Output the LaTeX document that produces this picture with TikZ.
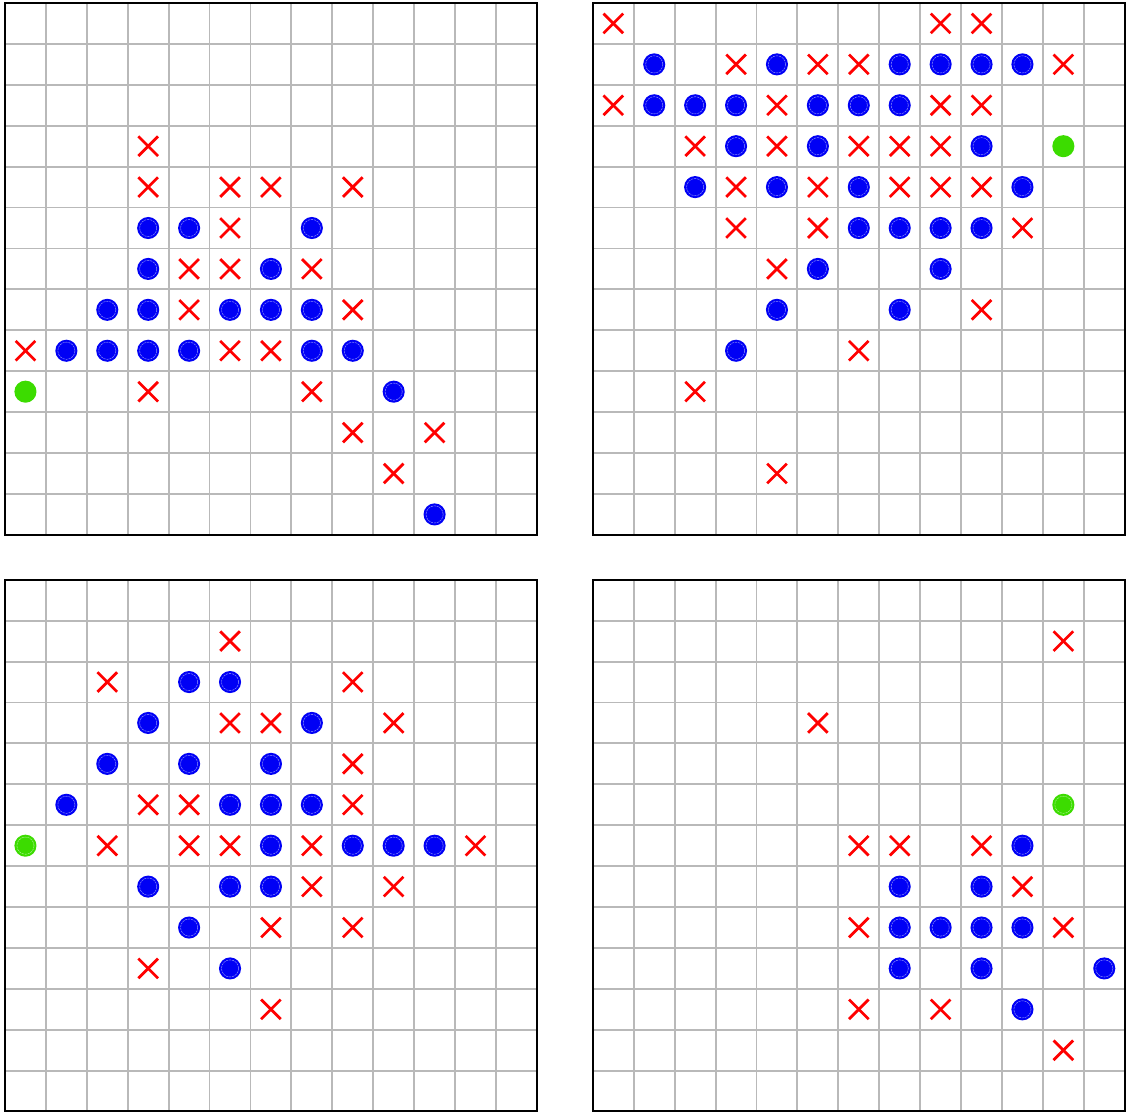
\documentclass[tikz,border=0pt]{standalone}
\usepackage{tikz}
\definecolor{green}{RGB}{60,220,0}
\definecolor{blue}{RGB}{0,0,245}
\definecolor{red}{RGB}{255,0,0}

\begin{document}
\begin{tikzpicture}[x=1cm,y=-1cm]

		\def\rad{0.27}
		\def\arm{0.24}

		\tikzset{line/.style={draw,line width=1.3pt}}
		\tikzset{gridline/.style={line,gray!55}}
		\tikzset{frame/.style={line,black,line width=1.7pt}}
		\tikzset{cross/.style={line,red,line width=1.9pt}}
		\tikzset{ring/.style={draw,line width=0.35pt,dash pattern=on 1.5pt off 0.6pt}}

		% board: 13x13 cells, origin at the top left corner
		\tikzset{pics/board/.style={code={%
							\draw[gridline] (0,0) grid (13,13);
							\draw[frame] (0,0) rectangle (13,13);
						}}}
		% stones
		\tikzset{pics/bstone/.style={code={%
							\fill[blue] (0,0) circle (\rad);
							\draw[ring,blue!45!white] (0,0) circle (0.21);
						}}}
		\tikzset{pics/gstone/.style={code={%
							\fill[green] (0,0) circle (\rad);
						}}}
		\tikzset{pics/gstonering/.style={code={%
							\fill[green] (0,0) circle (\rad);
							\draw[ring,green!45!white] (0,0) circle (0.21);
						}}}
		\tikzset{pics/xmark/.style={code={%
							\draw[cross] (-\arm,-\arm) -- (\arm,\arm);
							\draw[cross] (-\arm,\arm) -- (\arm,-\arm);
						}}}

		\useasboundingbox (0,0) rectangle (27.57,27.17);

		% top left
		\begin{scope}[shift={(0.122,0.073)}]
			\pic {board};
			\foreach \c/\r in {3/3,3/4,5/4,6/4,8/4,5/5,4/6,5/6,7/6,4/7,8/7,0/8,5/8,6/8,3/9,7/9,8/10,10/10,9/11}
				\pic at (\c+0.5,\r+0.5) {xmark};
			\foreach \c/\r in {3/5,4/5,7/5,3/6,6/6,2/7,3/7,5/7,6/7,7/7,1/8,2/8,3/8,4/8,7/8,8/8,9/9,10/12}
				\pic at (\c+0.5,\r+0.5) {bstone};
			\pic at (0.5,9.5) {gstone};
		\end{scope}

		% top right
		\begin{scope}[shift={(14.49,0.073)}]
			\pic {board};
			\foreach \c/\r in {0/0,8/0,9/0,3/1,5/1,6/1,11/1,0/2,4/2,8/2,9/2,2/3,4/3,6/3,7/3,8/3,3/4,5/4,7/4,8/4,9/4,3/5,5/5,10/5,4/6,9/7,6/8,2/9,4/11}
				\pic at (\c+0.5,\r+0.5) {xmark};
			\foreach \c/\r in {1/1,4/1,7/1,8/1,9/1,10/1,1/2,2/2,3/2,5/2,6/2,7/2,3/3,5/3,9/3,2/4,4/4,6/4,10/4,6/5,7/5,8/5,9/5,5/6,8/6,4/7,7/7,3/8}
				\pic at (\c+0.5,\r+0.5) {bstone};
			\pic at (11.5,3.5) {gstone};
		\end{scope}

		% bottom left
		\begin{scope}[shift={(0.122,14.17)}]
			\pic {board};
			\foreach \c/\r in {5/1,2/2,8/2,5/3,6/3,9/3,8/4,3/5,4/5,8/5,2/6,4/6,5/6,7/6,11/6,7/7,9/7,6/8,8/8,3/9,6/10}
				\pic at (\c+0.5,\r+0.5) {xmark};
			\foreach \c/\r in {4/2,5/2,3/3,7/3,2/4,4/4,6/4,1/5,5/5,6/5,7/5,6/6,8/6,9/6,10/6,3/7,5/7,6/7,4/8,5/9}
				\pic at (\c+0.5,\r+0.5) {bstone};
			\pic at (0.5,6.5) {gstonering};
		\end{scope}

		% bottom right
		\begin{scope}[shift={(14.49,14.17)}]
			\pic {board};
			\foreach \c/\r in {11/1,5/3,6/6,7/6,9/6,10/7,6/8,11/8,6/10,8/10,11/11}
				\pic at (\c+0.5,\r+0.5) {xmark};
			\foreach \c/\r in {10/6,7/7,9/7,7/8,8/8,9/8,10/8,7/9,9/9,12/9,10/10}
				\pic at (\c+0.5,\r+0.5) {bstone};
			\pic at (11.5,5.5) {gstonering};
		\end{scope}

	\end{tikzpicture}
\end{document}
